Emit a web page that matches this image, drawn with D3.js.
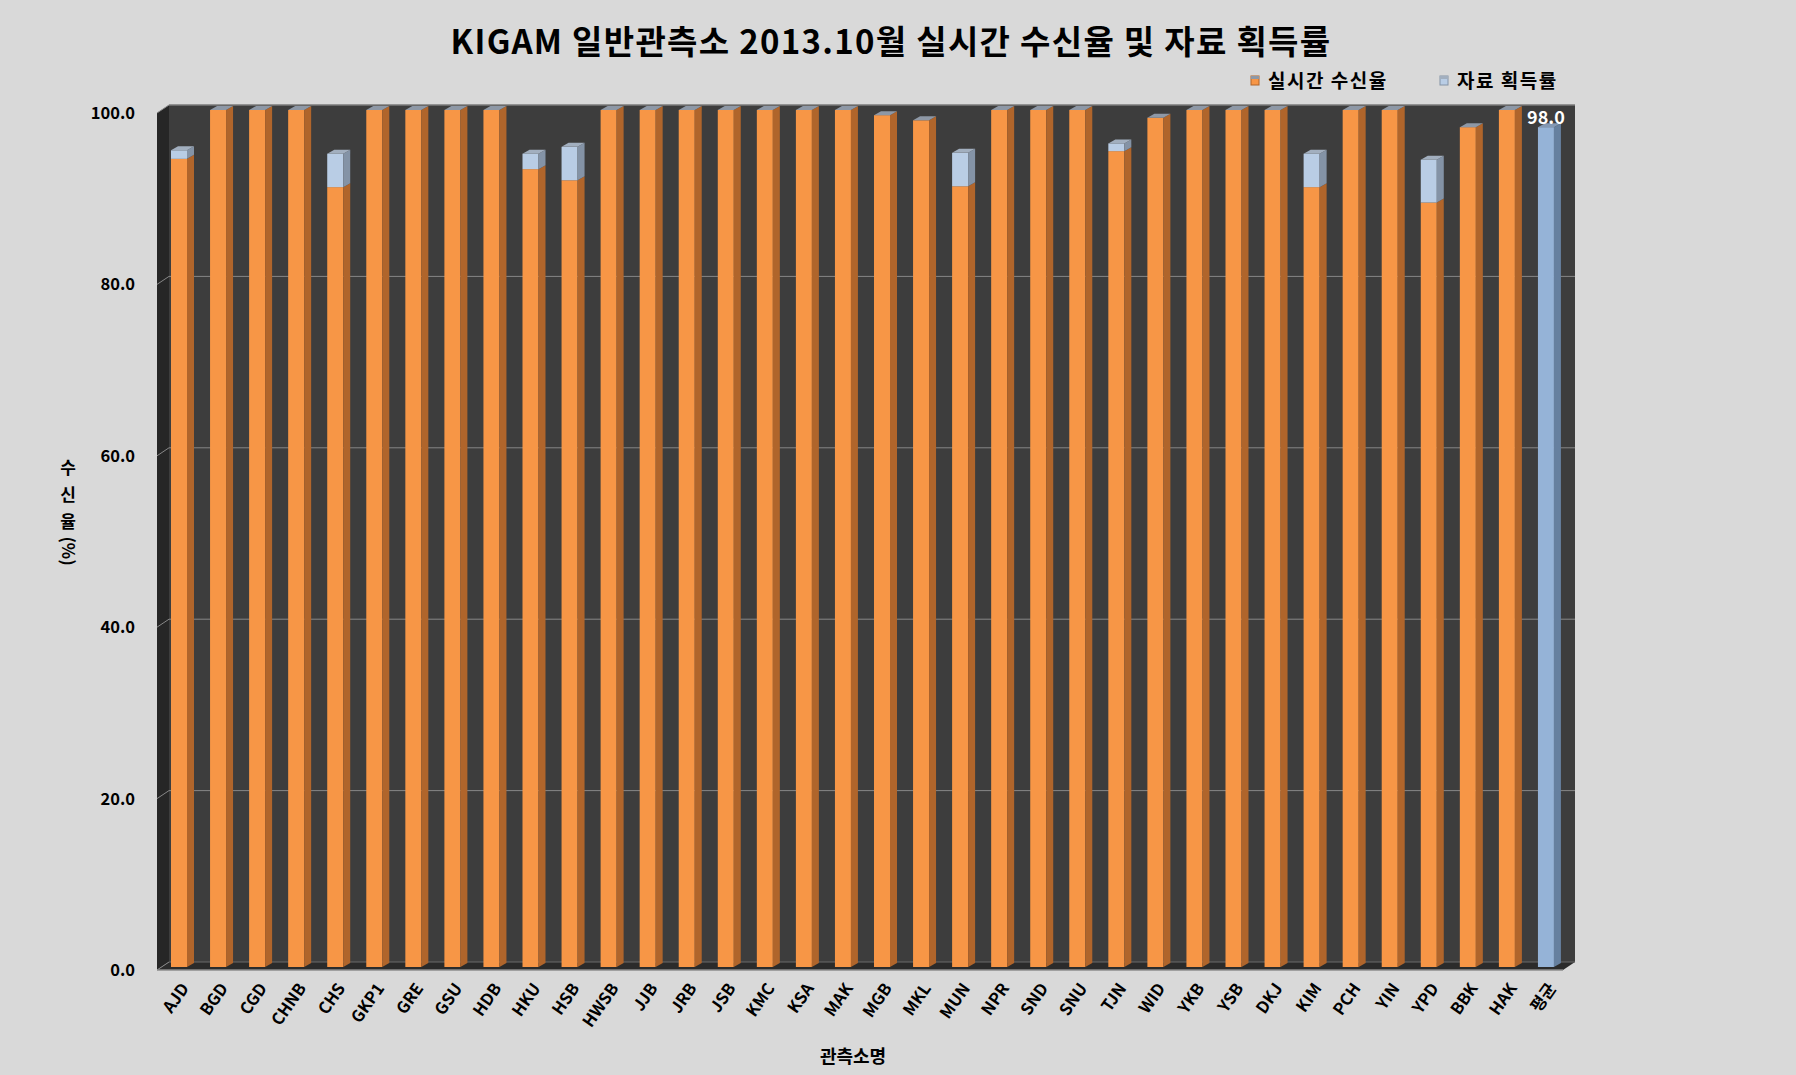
<!DOCTYPE html>
<html>
<head>
<meta charset="utf-8">
<script src="https://cdn.jsdelivr.net/npm/d3@7"></script>
<style>
  html, body { margin: 0; padding: 0; background: #d9d9d9; }
  svg { display: block; }
  text { font-family: "Noto Sans CJK KR", "Noto Sans", sans-serif; font-weight: 700; }
</style>
</head>
<body>
<svg id="chart" width="1796" height="1075"></svg>
<script>
const stations = [
  "AJD", "BGD", "CGD", "CHNB", "CHS", "GKP1", "GRE", "GSU", "HDB", "HKU",
  "HSB", "HWSB", "JJB", "JRB", "JSB", "KMC", "KSA", "MAK", "MGB", "MKL",
  "MUN", "NPR", "SND", "SNU", "TJN", "WID", "YKB", "YSB", "DKJ", "KIM",
  "PCH", "YIN", "YPD", "BBK", "HAK"
];
// 실시간 수신율
const realtime = [
  94.3, 100, 100, 100, 91.0, 100, 100, 100, 100, 93.1,
  91.8, 100, 100, 100, 100, 100, 100, 100, 99.4, 98.8,
  91.1, 100, 100, 100, 95.2, 99.1, 100, 100, 100, 91.0,
  100, 100, 89.2, 98.0, 100
];
// 자료 획득률
const acquired = [
  95.3, 100, 100, 100, 94.9, 100, 100, 100, 100, 94.9,
  95.7, 100, 100, 100, 100, 100, 100, 100, 99.4, 98.8,
  95.0, 100, 100, 100, 96.1, 99.1, 100, 100, 100, 94.9,
  100, 100, 94.2, 98.0, 100
];
const avgLabel = "평균";
const avgValue = 98.0;
const yTicks = [0, 20, 40, 60, 80, 100];
const seriesNames = ["실시간 수신율", "자료 획득률"];

const svg = d3.select("#chart");
const categories = stations.concat([avgLabel]);

const x = d3.scaleBand().domain(categories).range([157, 1563]).padding(0);
const y = d3.scaleLinear().domain([0, 100]).range([970, 113]);

// depth of the walls and of the bars
const wallDx = 12, wallDy = -8;
const barDx = 7, barDy = -4;
const barW = 16, barShift = 14, barLift = -3;

const orange = { front: "#f79646", side: "#b0652b", top: "#8e98a6" };
const light = { front: "#b9cde5", side: "#8493a6", top: "#a2afbf" };
const avgBlue = { front: "#95b3d7", side: "#66809f", top: "#8398b4" };

function poly(points) {
  return points.map(p => p.join(",")).join(" ");
}

function drawWalls(g) {
  const x0 = x.range()[0], x1 = x.range()[1];
  const y0 = y(0), y1 = y(100);

  // back wall
  g.append("polygon")
    .attr("points", poly([
      [x0 + wallDx, y1 + wallDy], [x1 + wallDx, y1 + wallDy],
      [x1 + wallDx, y0 + wallDy], [x0 + wallDx, y0 + wallDy]
    ]))
    .attr("fill", "#3d3d3d");

  // floor
  g.append("polygon")
    .attr("points", poly([
      [x0, y0], [x1, y0], [x1 + wallDx, y0 + wallDy], [x0 + wallDx, y0 + wallDy]
    ]))
    .attr("fill", "#2b2b2b");

  // side wall
  g.append("polygon")
    .attr("points", poly([
      [x0, y0], [x0, y1], [x0 + wallDx, y1 + wallDy], [x0 + wallDx, y0 + wallDy]
    ]))
    .attr("fill", "#262626");

  // gridlines on back wall and side wall
  g.append("g")
    .selectAll("line")
    .data(yTicks.filter(v => v > 0 && v < 100))
    .join("line")
    .attr("x1", x0 + wallDx)
    .attr("x2", x1 + wallDx)
    .attr("y1", d => y(d) + wallDy)
    .attr("y2", d => y(d) + wallDy)
    .attr("stroke", "#878787")
    .attr("stroke-width", 1);

  g.append("g")
    .selectAll("line")
    .data(yTicks)
    .join("line")
    .attr("x1", x0)
    .attr("x2", x0 + wallDx)
    .attr("y1", d => y(d))
    .attr("y2", d => y(d) + wallDy)
    .attr("stroke", "#878787")
    .attr("stroke-width", 1);

  // top edge of back wall
  g.append("line")
    .attr("x1", x0 + wallDx).attr("x2", x1 + wallDx)
    .attr("y1", y1 + wallDy).attr("y2", y1 + wallDy)
    .attr("stroke", "#7a7a7a").attr("stroke-width", 1.5);

  // back edge of floor
  g.append("line")
    .attr("x1", x0 + wallDx).attr("x2", x1 + wallDx)
    .attr("y1", y0 + wallDy).attr("y2", y0 + wallDy)
    .attr("stroke", "#6b6b6b").attr("stroke-width", 1);

  // front edge of floor
  g.append("line")
    .attr("x1", x0).attr("x2", x1)
    .attr("y1", y0).attr("y2", y0)
    .attr("stroke", "#8c8c8c").attr("stroke-width", 1.5);
}

function drawBlock(g, left, from, to, colors, withTop) {
  const yb = v => y(v) + barLift;
  const top = yb(to), bottom = yb(from);

  g.append("rect")
    .attr("x", left)
    .attr("y", top)
    .attr("width", barW)
    .attr("height", Math.max(0, bottom - top))
    .attr("fill", colors.front);

  g.append("polygon")
    .attr("points", poly([
      [left + barW, bottom], [left + barW, top],
      [left + barW + barDx, top + barDy], [left + barW + barDx, bottom + barDy]
    ]))
    .attr("fill", colors.side);

  if (withTop) {
    g.append("polygon")
      .attr("points", poly([
        [left, top], [left + barW, top],
        [left + barW + barDx, top + barDy], [left + barDx, top + barDy]
      ]))
      .attr("fill", colors.top);
  }
}

function drawBars(g) {
  stations.forEach((s, i) => {
    const left = x(s) + barShift;
    const bar = g.append("g").attr("class", "bar");
    drawBlock(bar, left, 0, realtime[i], orange, false);
    if (acquired[i] > realtime[i]) {
      drawBlock(bar, left, realtime[i], acquired[i], light, true);
    } else {
      drawBlock(bar, left, realtime[i], realtime[i], orange, true);
    }
  });

  const avgLeft = x(avgLabel) + barShift;
  const avgBar = g.append("g").attr("class", "bar avg");
  drawBlock(avgBar, avgLeft, 0, avgValue, avgBlue, true);

  g.append("text")
    .attr("x", avgLeft + barW / 2)
    .attr("y", y(avgValue) - 6)
    .attr("text-anchor", "middle")
    .attr("fill", "#ffffff")
    .attr("font-size", 18)
    .text(avgValue.toFixed(1));
}

function drawAxes(g) {
  g.append("g")
    .selectAll("text")
    .data(yTicks)
    .join("text")
    .attr("x", 135)
    .attr("y", d => y(d) + 6)
    .attr("text-anchor", "end")
    .attr("font-size", 16.5)
    .attr("fill", "#000")
    .text(d => d.toFixed(1));

  g.append("g")
    .selectAll("text")
    .data(categories)
    .join("text")
    .attr("transform", d => `translate(${x(d) + barShift + barW / 2 + 6},${985}) rotate(-55)`)
    .attr("text-anchor", "end")
    .attr("dy", "0.35em")
    .attr("font-size", 16.5)
    .attr("fill", "#000")
    .text(d => d);

  // x axis title
  g.append("text")
    .attr("x", 853)
    .attr("y", 1063)
    .attr("text-anchor", "middle")
    .attr("font-size", 18)
    .attr("fill", "#000")
    .text("관측소명");

  // y axis title, stacked characters
  const yTitle = g.append("g").attr("class", "y-title");
  ["수", "신", "율"].forEach((ch, i) => {
    yTitle.append("text")
      .attr("x", 68)
      .attr("y", 474 + i * 27)
      .attr("text-anchor", "middle")
      .attr("font-size", 17)
      .attr("fill", "#000")
      .text(ch);
  });
  yTitle.append("text")
    .attr("transform", "translate(62,551) rotate(90)")
    .attr("text-anchor", "middle")
    .attr("font-size", 17)
    .attr("fill", "#000")
    .text("(%)");
}

function drawTitle(g) {
  g.append("text")
    .attr("x", 891)
    .attr("y", 54)
    .attr("text-anchor", "middle")
    .attr("font-size", 33)
    .attr("letter-spacing", 1.3)
    .attr("fill", "#000")
    .text("KIGAM 일반관측소 2013.10월 실시간 수신율 및 자료 획득률");
}

function drawLegend(g) {
  const items = [
    { name: seriesNames[0], x: 1251, colors: orange },
    { name: seriesNames[1], x: 1440, colors: light }
  ];
  const item = g.append("g")
    .selectAll("g")
    .data(items)
    .join("g")
    .attr("transform", d => `translate(${d.x},76)`);

  item.append("rect")
    .attr("width", 8)
    .attr("height", 9)
    .attr("fill", d => d.colors.front)
    .attr("stroke", d => d.colors.side)
    .attr("stroke-width", 1);

  item.append("rect")
    .attr("width", 8)
    .attr("height", 3)
    .attr("fill", d => d.colors.top);

  item.append("text")
    .attr("x", 17)
    .attr("y", 12)
    .attr("font-size", 19)
    .attr("letter-spacing", 1.5)
    .attr("fill", "#000")
    .text(d => d.name);
}

const root = svg.append("g");
drawWalls(root.append("g").attr("class", "walls"));
drawBars(root.append("g").attr("class", "bars"));
drawAxes(root.append("g").attr("class", "axes"));
drawTitle(root);
drawLegend(root.append("g").attr("class", "legend"));
</script>
</body>
</html>
